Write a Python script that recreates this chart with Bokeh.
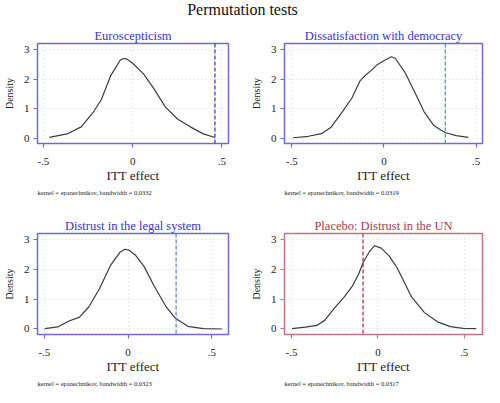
from bokeh.plotting import figure
from bokeh.layouts import column, row
from bokeh.models import FixedTicker, Title, Range1d, Span, ColumnDataSource
from bokeh.core.properties import value
from bokeh.embed import file_html
from bokeh.resources import INLINE

FONT = "Liberation Serif"

main_title = "Permutation tests"
panel_titles = ["Euroscepticism", "Dissatisfaction with democracy",
                "Distrust in the legal system", "Placebo: Distrust in the UN"]
bandwidths = ["0.0332", "0.0319", "0.0323", "0.0317"]
observed_effects = [0.461, 0.333, 0.287, -0.086]

x_ticks = [-0.5, 0, 0.5]
x_tick_labels = ["-.5", "0", ".5"]
y_ticks = [0, 1, 2, 3]

# Kernel density curves (ITT effect, density)
x1 = [-0.467, -0.367, -0.288, -0.218, -0.175, -0.122, -0.07, -0.052, -0.035, 0.0,
      0.061, 0.114, 0.184, 0.253, 0.323, 0.393, 0.46]
d1 = [0.02, 0.14, 0.38, 0.90, 1.31, 2.13, 2.64, 2.70, 2.69, 2.54,
      2.18, 1.72, 1.05, 0.64, 0.38, 0.15, 0.02]

x2 = [-0.493, -0.41, -0.34, -0.287, -0.226, -0.174, -0.131, -0.096, -0.07, -0.035,
      0.009, 0.04, 0.061, 0.113, 0.166, 0.218, 0.27, 0.331, 0.392, 0.458]
d2 = [0.01, 0.06, 0.15, 0.37, 0.89, 1.36, 1.93, 2.16, 2.29, 2.50,
      2.66, 2.76, 2.71, 2.24, 1.57, 0.89, 0.43, 0.19, 0.08, 0.02]

x3 = [-0.498, -0.42, -0.356, -0.29, -0.235, -0.17, -0.106, -0.05, -0.019, 0.006,
      0.043, 0.098, 0.154, 0.228, 0.283, 0.357, 0.45, 0.561]
d3 = [0.01, 0.07, 0.26, 0.40, 0.74, 1.36, 2.13, 2.57, 2.68, 2.65,
      2.49, 2.08, 1.46, 0.74, 0.36, 0.09, 0.01, 0.0]

x4 = [-0.498, -0.42, -0.354, -0.308, -0.252, -0.196, -0.149, -0.112, -0.084, -0.047,
      -0.019, 0.019, 0.065, 0.112, 0.196, 0.27, 0.345, 0.42, 0.494, 0.569]
d4 = [0.01, 0.06, 0.12, 0.29, 0.70, 1.07, 1.43, 1.84, 2.25, 2.62,
      2.80, 2.72, 2.46, 2.05, 1.07, 0.55, 0.24, 0.08, 0.02, 0.01]

xs = [x1, x2, x3, x4]
ds = [d1, d2, d3, d4]
x_ranges = [(-0.533, 0.537), (-0.540, 0.535), (-0.541, 0.600), (-0.541, 0.606)]
y_range = (-0.185, 3.21)

BLUE_FRAME = "#6b6bd6"
BLUE_TITLE = "#3434d0"
RED_FRAME = "#c0737f"
RED_TITLE = "#a83a4e"
frame_colors = [BLUE_FRAME, BLUE_FRAME, BLUE_FRAME, RED_FRAME]
title_colors = [BLUE_TITLE, BLUE_TITLE, BLUE_TITLE, RED_TITLE]
dash_colors = ["#3030b8", "#4a86d8", "#4a86d8", "#9a2a44"]

widths = [242, 242, 242, 242]
heights = [178, 178, 191, 191]
border_left = [30, 42, 30, 42]
border_right = [14, 2, 14, 2]
border_top = [25, 25, 37, 37]
border_bottom = 47


def make_panel(i):
    p = figure(width=widths[i], height=heights[i], output_backend="svg",
               toolbar_location=None,
               x_range=Range1d(*x_ranges[i]), y_range=Range1d(*y_range),
               min_border_left=border_left[i], min_border_right=border_right[i],
               min_border_top=border_top[i], min_border_bottom=border_bottom)
    p.title.text = panel_titles[i]
    p.title.align = "center"
    p.title.text_font = FONT
    p.title.text_font_size = "12.5px"
    p.title.text_font_style = "normal"
    p.title.text_color = title_colors[i]
    p.title.standoff = 1

    src = ColumnDataSource(dict(x=xs[i], y=ds[i]))
    p.line("x", "y", source=src, line_color="#3c3c3c", line_width=1.2,
           line_join="round")
    p.add_layout(Span(location=observed_effects[i], dimension="height",
                      line_color=dash_colors[i], line_dash="4 2", line_width=1.2))

    p.outline_line_color = frame_colors[i]
    p.outline_line_width = 1.5
    p.outline_line_alpha = 1.0

    p.xaxis.ticker = FixedTicker(ticks=x_ticks)
    p.xaxis.major_label_overrides = {t: l for t, l in zip(x_ticks, x_tick_labels)}
    p.yaxis.ticker = FixedTicker(ticks=y_ticks)
    for ax in (p.xaxis, p.yaxis):
        ax.axis_line_color = None
        ax.major_tick_line_color = frame_colors[i]
        ax.major_tick_line_width = 1.2
        ax.major_tick_out = 4
        ax.major_tick_in = 0
        ax.minor_tick_line_color = None
        ax.major_label_text_font = FONT
        ax.major_label_text_font_size = "11px"
        ax.major_label_text_color = "#222222"
        ax.axis_label_text_font = FONT
        ax.axis_label_text_font_style = "normal"
        ax.axis_label_text_color = "#222222"
    p.xaxis.major_label_standoff = 10
    p.yaxis.major_label_standoff = 4
    p.xaxis.axis_label = "ITT effect"
    p.xaxis.axis_label_text_font_size = "13px"
    p.xaxis.axis_label_standoff = 0
    p.yaxis.axis_label = "Density"
    p.yaxis.axis_label_text_font_size = "10px"
    p.yaxis.axis_label_standoff = 6
    p.yaxis.major_label_orientation = "horizontal"

    p.xgrid.ticker = FixedTicker(ticks=x_ticks)
    p.ygrid.ticker = FixedTicker(ticks=y_ticks)
    for g in (p.xgrid, p.ygrid):
        g.grid_line_color = "#d4d4d4"
        g.grid_line_dash = "1 3"
        g.grid_line_width = 1

    note = Title(text="kernel = epanechnikov, bandwidth = " + bandwidths[i],
                 align="left", text_font=FONT, text_font_size="6.5px",
                 text_font_style="normal", text_color="#222222", standoff=2)
    p.add_layout(note, "below")
    return p


panels = [make_panel(i) for i in range(4)]

tfig = figure(width=484, height=18, output_backend="svg", toolbar_location=None,
              x_range=Range1d(0, 1), y_range=Range1d(0, 1),
              min_border=0)
tfig.axis.visible = False
tfig.grid.visible = False
tfig.outline_line_color = None
tsrc = ColumnDataSource(dict(x=[0.5], y=[0.5], t=[main_title]))
tfig.text("x", "y", text="t", source=tsrc, text_font=value(FONT),
          text_font_size="16px", text_align="center", text_baseline="middle",
          text_color="#111111")

layout = column(tfig, row(panels[0], panels[1]), row(panels[2], panels[3]))

open("out.html", "w").write(file_html(layout, INLINE))
